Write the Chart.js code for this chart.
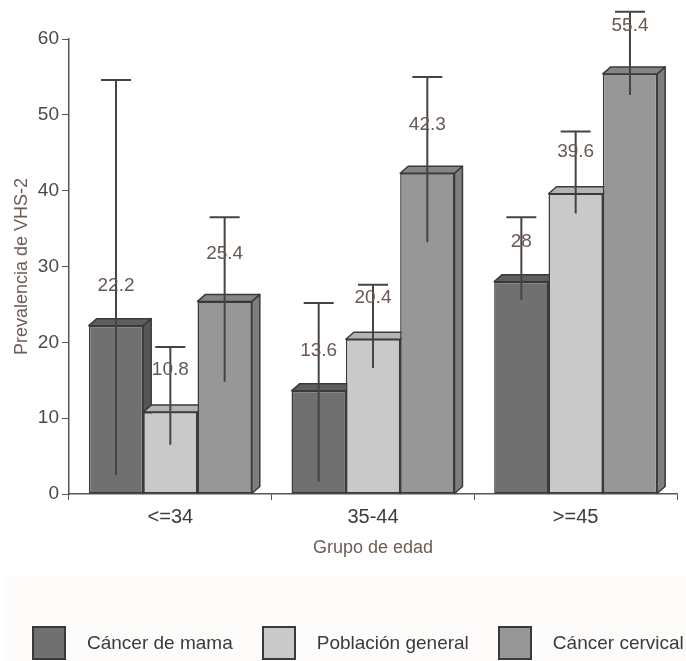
<!DOCTYPE html>
<html>
<head>
<meta charset="utf-8">
<script src="https://cdn.jsdelivr.net/npm/chart.js@4/dist/chart.umd.min.js"></script>
<style>
html,body{margin:0;padding:0;background:#ffffff;}
#wrap{position:relative;width:686px;height:661px;overflow:hidden;}
#bg{position:absolute;left:5px;top:575px;width:681px;height:86px;background:#fdfcfa;}
#c{position:absolute;left:0;top:0;}
#legend{position:absolute;left:0;top:625px;width:686px;height:35px;display:flex;align-items:center;padding-left:32px;box-sizing:border-box;
  font-family:"Liberation Sans",Arial,sans-serif;font-size:19px;color:#3a3a3a;white-space:nowrap;}
.item{display:flex;align-items:center;margin-right:29px;}
.box{width:34px;height:34px;box-sizing:border-box;border:2px solid #3a3a3a;margin-right:21px;}
</style>
</head>
<body>
<div id="wrap">
  <div id="bg"></div>
  <canvas id="c" width="686" height="661"></canvas>
  <div id="legend"></div>
</div>
<script>
// ---- data ----
const categories = ['<=34', '35-44', '>=45'];
const seriesNames = ['Cáncer de mama', 'Población general', 'Cáncer cervical'];
const mama = [22.2, 13.6, 28];
const poblacion = [10.8, 20.4, 39.6];
const cervical = [25.4, 42.3, 55.4];
const mamaLow = [2.5, 1.6, 25.6];
const mamaHigh = [54.6, 25.2, 36.5];
const poblacionLow = [6.5, 16.6, 37.0];
const poblacionHigh = [19.4, 27.6, 47.8];
const cervicalLow = [14.8, 33.2, 52.6];
const cervicalHigh = [36.5, 55.0, 63.6];
const yTicks = [0, 10, 20, 30, 40, 50, 60];
const yTitle = 'Prevalencia de VHS-2';
const xTitle = 'Grupo de edad';

// ---- styles ----
const FONT = '"Liberation Sans", Arial, sans-serif';
const frontColors = ['#707070', '#c9c9c9', '#979797'];
const topColors = ['#5e5e5e', '#b4b4b4', '#858585'];
const sideColors = ['#555555', '#a8a8a8', '#7e7e7e'];
const EDGE = '#3a3a3a';
const DX = 8, DY = 7;
const labelOffsets = [40, 42, 48];

const lows = [mamaLow, poblacionLow, cervicalLow];
const highs = [mamaHigh, poblacionHigh, cervicalHigh];
const values = [mama, poblacion, cervical];

const depthPlugin = {
  id: 'depth3d',
  beforeDatasetsDraw(chart) {
    const ctx = chart.ctx;
    ctx.save();
    ctx.lineWidth = 1.5;
    ctx.strokeStyle = EDGE;
    ctx.lineJoin = 'round';
    chart.data.datasets.forEach((ds, di) => {
      const meta = chart.getDatasetMeta(di);
      meta.data.forEach(el => {
        const p = el.getProps(['x', 'y', 'base', 'width'], true);
        const l = p.x - p.width / 2, r = p.x + p.width / 2;
        // side face
        ctx.beginPath();
        ctx.moveTo(r, p.y);
        ctx.lineTo(r + DX, p.y - DY);
        ctx.lineTo(r + DX, p.base - DY);
        ctx.lineTo(r, p.base);
        ctx.closePath();
        ctx.fillStyle = sideColors[di];
        ctx.fill();
        ctx.stroke();
        // top face
        ctx.beginPath();
        ctx.moveTo(l, p.y);
        ctx.lineTo(l + DX, p.y - DY);
        ctx.lineTo(r + DX, p.y - DY);
        ctx.lineTo(r, p.y);
        ctx.closePath();
        ctx.fillStyle = topColors[di];
        ctx.fill();
        ctx.stroke();
      });
    });
    ctx.restore();
  },
  afterDatasetsDraw(chart) {
    const ctx = chart.ctx;
    const ys = chart.scales.y;
    ctx.save();
    // error bars
    ctx.strokeStyle = '#444444';
    ctx.lineWidth = 2;
    chart.data.datasets.forEach((ds, di) => {
      const meta = chart.getDatasetMeta(di);
      meta.data.forEach((el, i) => {
        const p = el.getProps(['x'], true);
        const yl = ys.getPixelForValue(lows[di][i]);
        const yh = ys.getPixelForValue(highs[di][i]);
        ctx.beginPath();
        ctx.moveTo(p.x, yl);
        ctx.lineTo(p.x, yh);
        ctx.moveTo(p.x - 15, yh);
        ctx.lineTo(p.x + 15, yh);
        ctx.stroke();
      });
    });
    // value labels
    ctx.font = '19px ' + FONT;
    ctx.fillStyle = '#675950';
    ctx.textAlign = 'center';
    ctx.textBaseline = 'middle';
    chart.data.datasets.forEach((ds, di) => {
      const meta = chart.getDatasetMeta(di);
      meta.data.forEach((el, i) => {
        const p = el.getProps(['x', 'y'], true);
        ctx.fillText(String(values[di][i]), p.x, p.y - labelOffsets[di]);
      });
    });
    ctx.restore();
  }
};

const chart = new Chart(document.getElementById('c'), {
  type: 'bar',
  data: {
    labels: categories,
    datasets: values.map((v, di) => ({
      label: seriesNames[di],
      data: v,
      backgroundColor: frontColors[di],
      borderColor: EDGE,
      borderWidth: 1.5,
      borderSkipped: false,
      barPercentage: 1.0,
      categoryPercentage: 0.804
    }))
  },
  options: {
    responsive: false,
    animation: false,
    devicePixelRatio: 1,
    layout: { padding: { left: 0, right: 9, top: 39, bottom: 97 } },
    plugins: { legend: { display: false }, tooltip: { enabled: false } },
    scales: {
      x: {
        grid: { drawOnChartArea: false, drawTicks: true, tickLength: 6, color: '#555555', offset: true },
        border: { color: '#555555', width: 1.5 },
        ticks: { color: '#3c3c3c', font: { family: FONT, size: 20 }, padding: 5 },
        title: { display: true, text: xTitle, color: '#6e5d54', font: { family: FONT, size: 18 }, padding: { top: 0, bottom: 5 } },
        afterFit: s => { s.height = 70; }
      },
      y: {
        min: 0, max: 60,
        afterBuildTicks: s => { s.ticks = yTicks.map(v => ({ value: v })); },
        grid: { drawOnChartArea: false, drawTicks: true, tickLength: 7, color: '#555555' },
        border: { color: '#555555', width: 1.5 },
        ticks: { color: '#4a4a4a', font: { family: FONT, size: 19 }, padding: 3 },
        title: { display: true, text: yTitle, color: '#6e5d54', font: { family: FONT, size: 18 }, padding: { top: 11, bottom: 0 } },
        afterFit: s => { s.width = 69; }
      }
    }
  },
  plugins: [depthPlugin]
});

// HTML legend built from the datasets
const legend = document.getElementById('legend');
chart.data.datasets.forEach(ds => {
  const item = document.createElement('div');
  item.className = 'item';
  const box = document.createElement('div');
  box.className = 'box';
  box.style.background = ds.backgroundColor;
  const txt = document.createElement('span');
  txt.textContent = ds.label;
  item.appendChild(box);
  item.appendChild(txt);
  legend.appendChild(item);
});
</script>
</body>
</html>
